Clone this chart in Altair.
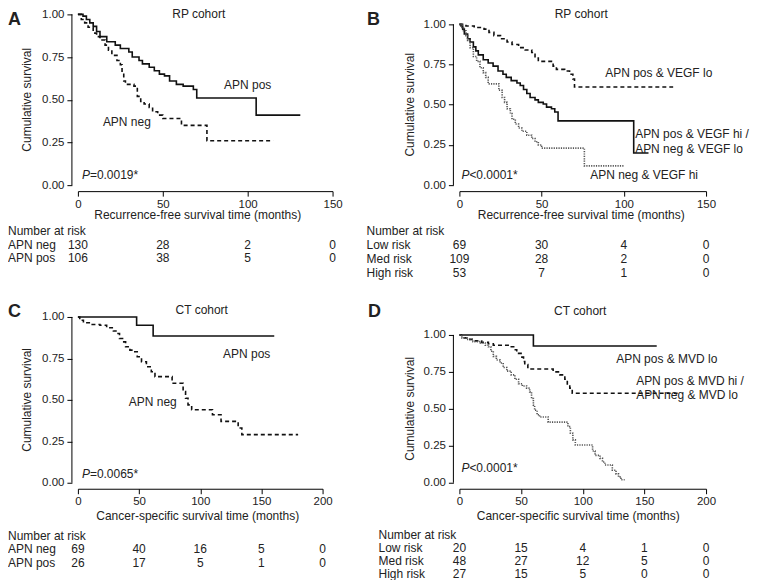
import altair as alt
import pandas as pd

FONT = "Liberation Sans"
INK = "#222222"

# ---------------- data ----------------
# Panel A: RP cohort, recurrence-free survival by APN status
A_pos_t = [0, 3, 5, 7, 9, 11, 13, 17, 22, 25, 30, 32, 36, 38, 42, 45, 48, 51, 54, 58, 62, 68, 70, 105, 131]
A_pos_s = [1.00, 0.99, 0.97, 0.95, 0.93, 0.90, 0.87, 0.84, 0.82, 0.80, 0.78, 0.75, 0.73, 0.71, 0.69, 0.67, 0.65, 0.64, 0.61, 0.59, 0.58, 0.56, 0.51, 0.41, 0.41]
A_neg_t = [0, 2, 4, 6, 9, 11, 13, 16, 18, 20, 23, 25, 26, 27, 28, 33, 35, 37, 39, 42, 44, 47, 50, 61, 76, 115]
A_neg_s = [1.00, 0.97, 0.95, 0.925, 0.89, 0.87, 0.85, 0.82, 0.79, 0.76, 0.73, 0.705, 0.66, 0.61, 0.59, 0.58, 0.52, 0.49, 0.475, 0.455, 0.43, 0.41, 0.39, 0.35, 0.26, 0.26]

# Panel B: RP cohort, APN x VEGF risk groups
B_low_t = [0, 4, 9, 15, 18, 21, 25, 29, 32, 36, 40, 44, 46, 48, 57, 59, 64, 67, 69, 70, 130]
B_low_s = [1.00, 0.99, 0.98, 0.97, 0.95, 0.93, 0.91, 0.89, 0.875, 0.855, 0.84, 0.825, 0.79, 0.77, 0.74, 0.72, 0.71, 0.69, 0.66, 0.61, 0.61]
B_med_t = [0, 1, 2, 3, 5, 6.5, 8.5, 10, 11.5, 14.5, 17.5, 20.5, 23.5, 26.5, 28.5, 31.5, 35, 37, 39, 41, 43, 46, 48, 51, 53, 56, 58, 60, 106, 115]
B_med_s = [1.00, 0.99, 0.97, 0.94, 0.91, 0.89, 0.86, 0.835, 0.81, 0.78, 0.76, 0.74, 0.71, 0.69, 0.67, 0.65, 0.635, 0.62, 0.595, 0.57, 0.545, 0.53, 0.515, 0.505, 0.485, 0.475, 0.455, 0.40, 0.20, 0.20]
B_high_t = [0, 1.5, 2.5, 4, 5, 6.5, 8.5, 10.5, 12.5, 14.5, 16, 17.5, 24, 26, 27.5, 29, 31, 32, 34, 36, 38, 41, 44, 46, 48, 50, 76, 100]
B_high_s = [1.00, 0.98, 0.96, 0.93, 0.90, 0.855, 0.80, 0.77, 0.73, 0.70, 0.67, 0.63, 0.59, 0.545, 0.515, 0.475, 0.445, 0.41, 0.38, 0.355, 0.335, 0.31, 0.29, 0.27, 0.25, 0.23, 0.12, 0.12]

# Panel C: CT cohort, cancer-specific survival by APN status
C_pos_t = [0, 48, 61.5, 160.5]
C_pos_s = [1.00, 0.95, 0.885, 0.885]
C_neg_t = [0, 1.5, 4.5, 10, 18, 23.5, 29, 32, 34, 36.5, 39, 42.5, 46.5, 48.5, 52, 56, 60, 63, 77, 86, 88, 90, 93, 110, 117, 131, 134, 180]
C_neg_s = [1.00, 0.98, 0.965, 0.955, 0.95, 0.935, 0.915, 0.90, 0.87, 0.85, 0.82, 0.80, 0.79, 0.76, 0.73, 0.70, 0.67, 0.64, 0.60, 0.55, 0.51, 0.47, 0.44, 0.41, 0.37, 0.33, 0.29, 0.29]

# Panel D: CT cohort, APN x MVD risk groups
D_low_t = [0, 60, 160]
D_low_s = [1.00, 0.925, 0.925]
D_med_t = [0, 2, 7, 13, 18, 23.5, 27.5, 41, 44, 46.5, 50, 52, 53, 55.5, 76, 81.5, 85.5, 87.5, 89.5, 91.5, 178]
D_med_s = [1.00, 0.98, 0.97, 0.96, 0.95, 0.94, 0.93, 0.92, 0.90, 0.875, 0.85, 0.82, 0.80, 0.77, 0.75, 0.73, 0.70, 0.66, 0.64, 0.605, 0.605]
D_high_t = [0, 2, 6, 11, 17, 21, 23.5, 25.5, 27.5, 30, 33, 35.5, 38.5, 42, 45, 48, 51, 54.5, 57, 58.5, 60, 61, 63, 65, 72, 88, 90, 92, 94, 108, 110, 114, 116, 118, 124, 127, 129, 131, 134]
D_high_s = [1.00, 0.98, 0.97, 0.955, 0.945, 0.93, 0.92, 0.89, 0.855, 0.83, 0.81, 0.78, 0.755, 0.73, 0.70, 0.67, 0.655, 0.64, 0.615, 0.57, 0.525, 0.49, 0.46, 0.445, 0.41, 0.38, 0.335, 0.29, 0.255, 0.215, 0.185, 0.165, 0.14, 0.12, 0.085, 0.06, 0.04, 0.02, 0.02]

# Number-at-risk tables
RFS_times = [0, 50, 100, 150]
CSS_times = [0, 50, 100, 150, 200]
A_risk_labels = ["APN neg", "APN pos"]
A_risk = [[130, 28, 2, 0], [106, 38, 5, 0]]
B_risk_labels = ["Low risk", "Med risk", "High risk"]
B_risk = [[69, 30, 4, 0], [109, 28, 2, 0], [53, 7, 1, 0]]
C_risk_labels = ["APN neg", "APN pos"]
C_risk = [[69, 40, 16, 5, 0], [26, 17, 5, 1, 0]]
D_risk_labels = ["Low risk", "Med risk", "High risk"]
D_risk = [[20, 15, 4, 1, 0], [48, 27, 12, 5, 0], [27, 15, 5, 0, 0]]

# ---------------- styling ----------------
SOLID = dict(color="#111111", strokeWidth=1.6)
DASHED = dict(color="#111111", strokeWidth=1.6, strokeDash=[4, 3])
DOTTED = dict(color="#555555", strokeWidth=1.6, strokeDash=[1.2, 1.2])

dummy = pd.DataFrame({"d": [0]})


def txt(text, x, y, align="center", size=12, weight="normal", style="normal"):
    return alt.Chart(dummy).mark_text(
        text=text, align=align, baseline="middle", font=FONT, fontSize=size,
        fontWeight=weight, fontStyle=style, color=INK
    ).encode(x=alt.value(x), y=alt.value(y))


def panel(W, H, xmax, xticks, ytop, curves, notes, times, risk_labels, risk_vals,
          lab_x, head_y, row_ys, xtitle, xtitle_pos, ytitle_x):
    xs = alt.Scale(domain=[0, xmax], nice=False, zero=True)
    ys = alt.Scale(domain=[0, ytop], nice=False, zero=True)
    xaxis = alt.Axis(values=xticks, format="d", title=None, offset=6, tickSize=5,
                     labelPadding=2, domainColor="black", domainWidth=1,
                     tickColor="black", tickWidth=1, labelColor=INK, labelFont=FONT,
                     labelFontSize=11.5, grid=False, labelFlush=False, labelOverlap=False)
    yaxis = alt.Axis(values=[0, 0.25, 0.5, 0.75, 1.0], format=".2f", title=None, offset=6,
                     tickSize=5, labelPadding=3, domain=False, tickColor="black",
                     tickWidth=1, labelColor=INK, labelFont=FONT, labelFontSize=11.5,
                     grid=False, labelFlush=False, labelOverlap=False)
    layers = []
    for t, s, sty in curves:
        df = pd.DataFrame({"t": t, "s": s})
        layers.append(
            alt.Chart(df).mark_line(interpolate="step-after", **sty).encode(
                x=alt.X("t:Q", scale=xs, axis=xaxis),
                y=alt.Y("s:Q", scale=ys, axis=yaxis),
            )
        )
    # y axis line spanning 0..1
    layers.append(
        alt.Chart(dummy).mark_rule(color="black", strokeWidth=1).encode(
            x=alt.value(-6),
            y=alt.YDatum(datum=0, scale=ys, axis=yaxis),
            y2=alt.Y2Datum(datum=1),
        )
    )
    # y axis title centred on 0..1
    layers.append(
        alt.Chart(dummy).mark_text(
            text="Cumulative survival", angle=270, align="center", baseline="middle",
            font=FONT, fontSize=12, color=INK
        ).encode(x=alt.value(ytitle_x), y=alt.YDatum(datum=0.5, scale=ys, axis=yaxis))
    )
    # x axis title
    layers.append(txt(xtitle, xtitle_pos[0], xtitle_pos[1]))
    # annotations
    for n in notes:
        layers.append(txt(*n[:3], **(n[3] if len(n) > 3 else {})))
    # number at risk
    layers.append(txt("Number at risk", lab_x, head_y, align="left"))
    for lab, vals, ry in zip(risk_labels, risk_vals, row_ys):
        layers.append(txt(lab, lab_x, ry, align="left"))
        rdf = pd.DataFrame({"t": times, "n": [str(v) for v in vals]})
        layers.append(
            alt.Chart(rdf).mark_text(align="center", baseline="middle", font=FONT,
                                     fontSize=12, color=INK).encode(
                x=alt.X("t:Q", scale=xs, axis=xaxis),
                y=alt.value(ry),
                text="n:N",
            )
        )
    return alt.layer(*layers).properties(width=W, height=H)


H0, H1 = 171, 166

A = panel(
    255, H0, 150, RFS_times, 1.0,
    [(A_pos_t, A_pos_s, SOLID), (A_neg_t, A_neg_s, DASHED)],
    [
        ("A", -70, 6, {"align": "left", "size": 18, "weight": "bold"}),
        ("RP cohort", 121, 0),
        ("APN pos", 170, 71),
        ("APN neg", 49, 108),
        ("P", 4, 161, {"align": "left", "style": "italic"}),
        ("=0.0019*", 12, 161, {"align": "left"}),
    ],
    RFS_times, A_risk_labels, A_risk, -70, 217, [231, 244],
    "Recurrence-free survival time (months)", (120, 201), -51,
)

B = panel(
    247, H0, 150, RFS_times, 1.062,
    [(B_low_t, B_low_s, DASHED), (B_med_t, B_med_s, SOLID), (B_high_t, B_high_s, DOTTED)],
    [
        ("B", -86, 6, {"size": 18, "weight": "bold"}),
        ("RP cohort", 122, 0),
        ("APN pos & VEGF lo", 146, 59, {"align": "left"}),
        ("APN pos & VEGF hi /", 176, 120, {"align": "left"}),
        ("APN neg & VEGF lo", 176, 135, {"align": "left"}),
        ("APN neg & VEGF hi", 131, 161, {"align": "left"}),
        ("P", 2, 161, {"align": "left", "style": "italic"}),
        ("<0.0001*", 10, 161, {"align": "left"}),
    ],
    RFS_times, B_risk_labels, B_risk, -93, 217, [231, 245, 259],
    "Recurrence-free survival time (months)", (122, 201), -49,
)

C = panel(
    245, H1, 200, CSS_times, 1.0,
    [(C_pos_t, C_pos_s, SOLID), (C_neg_t, C_neg_s, DASHED)],
    [
        ("C", -70, -5, {"align": "left", "size": 18, "weight": "bold"}),
        ("CT cohort", 124, -7),
        ("APN pos", 169, 37),
        ("APN neg", 75, 85),
        ("P", 4, 157, {"align": "left", "style": "italic"}),
        ("=0.0065*", 12, 157, {"align": "left"}),
    ],
    CSS_times, C_risk_labels, C_risk, -70, 219, [232, 246],
    "Cancer-specific survival time (months)", (120, 199), -51,
)

D = panel(
    247, H1, 200, CSS_times, 1.1216,
    [(D_low_t, D_low_s, SOLID), (D_med_t, D_med_s, DASHED), (D_high_t, D_high_s, DOTTED)],
    [
        ("D", -85, -5, {"size": 18, "weight": "bold"}),
        ("CT cohort", 121, -6),
        ("APN pos & MVD lo", 157, 42, {"align": "left"}),
        ("APN pos & MVD hi /", 177, 64, {"align": "left"}),
        ("APN neg & MVD lo", 177, 78, {"align": "left"}),
        ("P", 2, 151, {"align": "left", "style": "italic"}),
        ("<0.0001*", 10, 151, {"align": "left"}),
    ],
    CSS_times, D_risk_labels, D_risk, -81, 218, [231, 244, 257],
    "Cancer-specific survival time (months)", (119, 199), -49,
)

chart = (
    alt.concat(A, B, C, D, columns=2, spacing={"row": 132, "column": 127},
               bounds="flush", align="each")
    .properties(padding=0, background="white")
    .configure_view(stroke=None)
)

chart.save("out.html", embed_options={"renderer": "svg", "actions": False})
